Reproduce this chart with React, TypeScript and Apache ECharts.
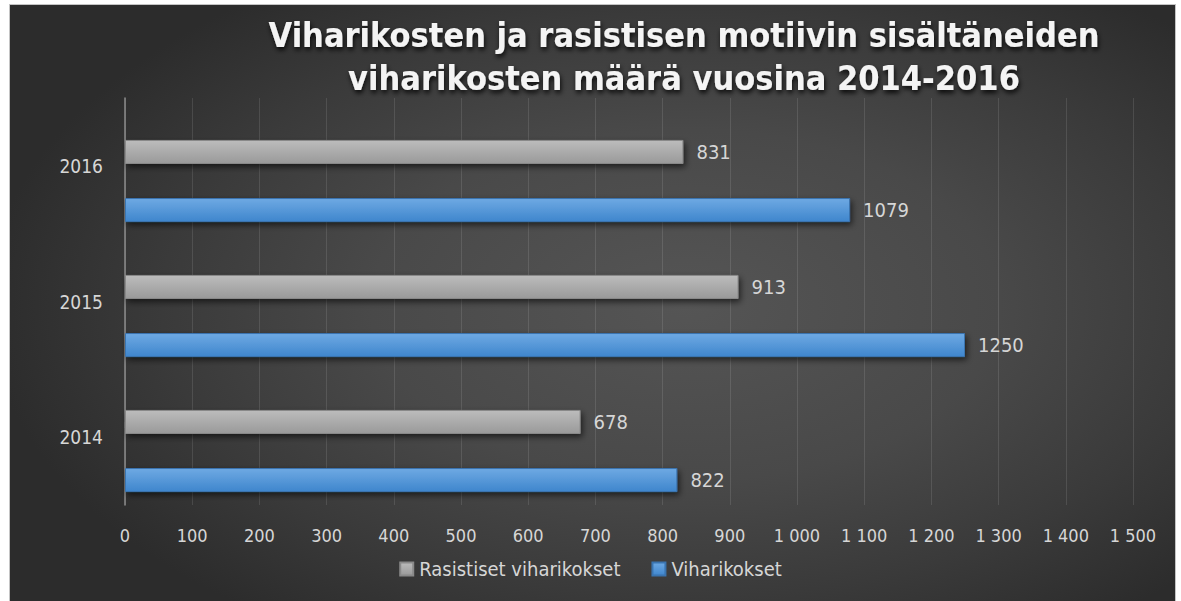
import React, { useEffect, useRef } from "react";
import * as echarts from "echarts";

const years = ["2014", "2015", "2016"];
const rasistiset = [678, 913, 831];
const viharikokset = [822, 1250, 1079];
const seriesNames = ["Rasistiset viharikokset", "Viharikokset"];
const titleText = "Viharikosten ja rasistisen motiivin sisältäneiden\nviharikosten määrä vuosina 2014-2016";

const FONT = "'Liberation Sans Narrow', 'DejaVu Sans Condensed', 'Liberation Sans', sans-serif";
const TXT = "#d6d6d6";

const fmt = (v: number) => String(v).replace(/\B(?=(\d{3})+(?!\d))/g, " ");

export default function App() {
  const ref = useRef<HTMLDivElement>(null);
  useEffect(() => {
    if (!ref.current) return;
    const chart = echarts.init(ref.current, null, { renderer: "svg" });
    const barShadow = {
      shadowColor: "rgba(0,0,0,0.6)",
      shadowBlur: 6,
      shadowOffsetX: 2,
      shadowOffsetY: 3,
    };
    chart.setOption({
      animation: false,
      backgroundColor: "transparent",
      title: {
        text: titleText,
        left: 679,
        top: 8,
        textAlign: "center",
        textStyle: {
          fontFamily: FONT,
          fontWeight: "bold",
          fontSize: 34,
          lineHeight: 43,
          color: "#f4f4f4",
          textShadowColor: "rgba(0,0,0,0.85)",
          textShadowBlur: 5,
          textShadowOffsetX: 1,
          textShadowOffsetY: 3,
        },
      },
      legend: {
        data: seriesNames,
        left: "center",
        top: 554,
        itemWidth: 13,
        itemHeight: 13,
        itemGap: 31,
        icon: "rect",
        textStyle: { color: TXT, fontSize: 20, fontFamily: FONT, padding: [0, 0, 0, 1] },
      },
      grid: [
        { left: 125, right: 48, top: 98, bottom: 96 },
        { left: 125, right: 48, top: 113.5, bottom: 82.5 },
      ],
      xAxis: [
        {
          gridIndex: 0,
          type: "value",
          min: 0,
          max: 1500,
          interval: 100,
          axisLine: { show: false },
          axisTick: { show: false },
          splitLine: { show: true, lineStyle: { color: "rgba(255,255,255,0.11)", width: 1 } },
          axisLabel: { color: TXT, fontSize: 18, fontFamily: FONT, margin: 21, formatter: fmt },
        },
        {
          gridIndex: 1,
          type: "value",
          min: 0,
          max: 1500,
          show: false,
        },
      ],
      yAxis: [
        {
          gridIndex: 0,
          type: "category",
          data: years,
          axisLine: { show: true, lineStyle: { color: "#8c8c8c", width: 1.5 } },
          axisTick: { show: false },
          axisLabel: { color: TXT, fontSize: 19, fontFamily: FONT, margin: 22 },
        },
        {
          gridIndex: 1,
          type: "category",
          data: years,
          show: false,
        },
      ],
      series: [
        {
          name: seriesNames[0],
          type: "bar",
          xAxisIndex: 1,
          yAxisIndex: 1,
          data: rasistiset,
          barWidth: 24,
          barGap: "142%",
          itemStyle: {
            color: new echarts.graphic.LinearGradient(0, 0, 0, 1, [
              { offset: 0, color: "#bcbcbc" },
              { offset: 1, color: "#9a9a9a" },
            ]),
            borderColor: "#8a8a8a",
            borderWidth: 1,
            ...barShadow,
          },
          label: { show: true, position: "right", distance: 13, color: TXT, fontSize: 20, fontFamily: FONT },
        },
        {
          name: seriesNames[1],
          type: "bar",
          xAxisIndex: 1,
          yAxisIndex: 1,
          data: viharikokset,
          barWidth: 24,
          barGap: "142%",
          itemStyle: {
            color: new echarts.graphic.LinearGradient(0, 0, 0, 1, [
              { offset: 0, color: "#6ea9e3" },
              { offset: 1, color: "#3f86cd" },
            ]),
            borderColor: "#3a74b0",
            borderWidth: 1,
            ...barShadow,
          },
          label: { show: true, position: "right", distance: 13, color: TXT, fontSize: 20, fontFamily: FONT },
        },
      ],
      color: ["#a8a8a8", "#4f94d8"],
    });
    return () => chart.dispose();
  }, []);

  return (
    <div style={{ position: "fixed", left: 0, top: 0, width: 1181, height: 601, background: "#ffffff" }}>
      <div
        style={{
          position: "absolute",
          left: 9,
          top: 4,
          width: 1165,
          height: 600,
          border: "1px solid #c4c4c4",
          background:
            "radial-gradient(ellipse 60% 65% at 58% 50%, #555555 0%, #494949 45%, #3a3a3a 75%, #2c2c2c 100%)",
        }}
      />
      <div ref={ref} style={{ position: "absolute", left: 0, top: 0, width: 1181, height: 601 }} />
    </div>
  );
}
